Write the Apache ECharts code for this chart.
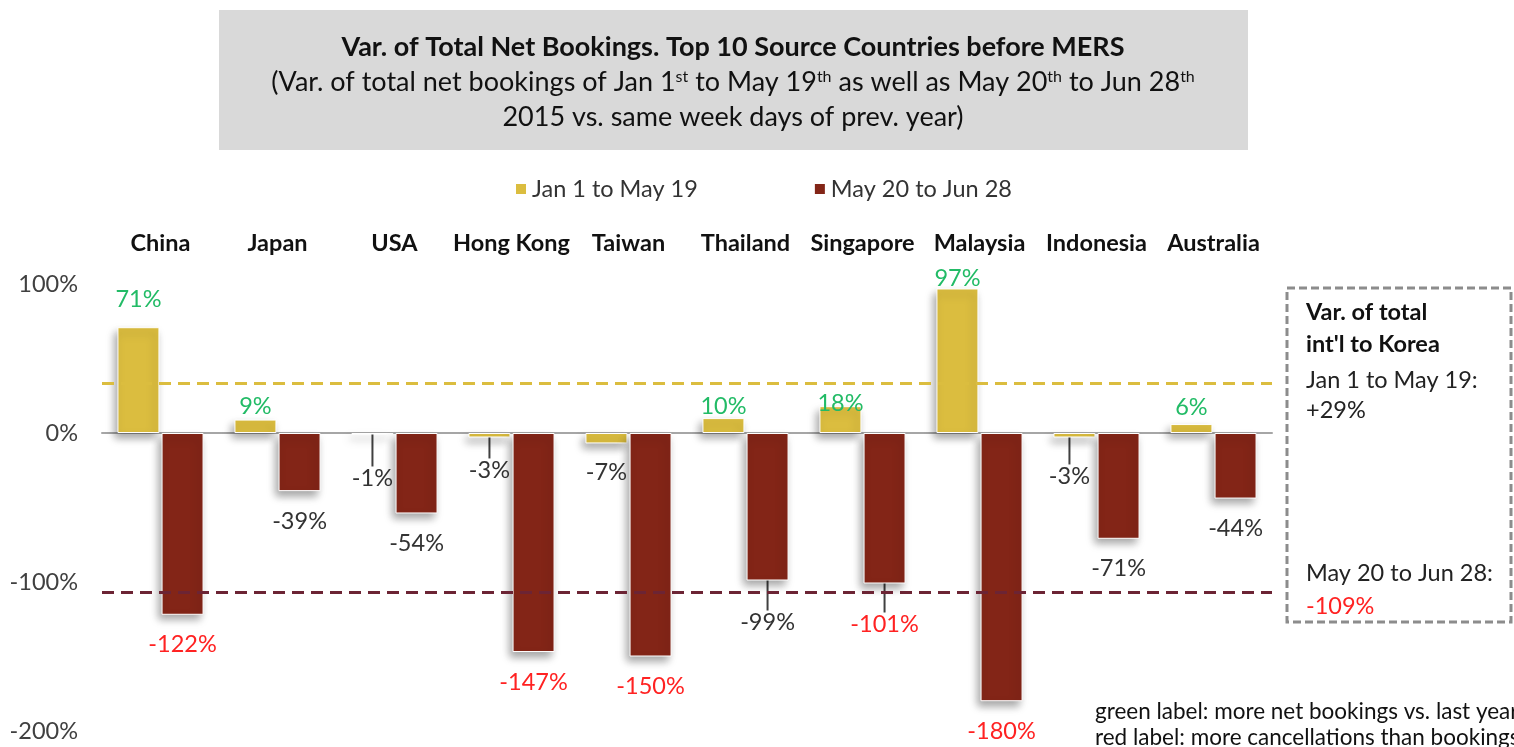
<!DOCTYPE html>
<html>
<head>
<meta charset="utf-8">
<script src="https://cdn.jsdelivr.net/npm/echarts@6/dist/echarts.min.js"></script>
<style>
  html, body { margin: 0; padding: 0; background: #fff; }
  #main { width: 1514px; height: 747px; }
</style>
</head>
<body>
<div id="main"></div>
<script>
const categories = ['China', 'Japan', 'USA', 'Hong Kong', 'Taiwan', 'Thailand', 'Singapore', 'Malaysia', 'Indonesia', 'Australia']
const janToMay = [71, 9, -1, -3, -7, 10, 18, 97, -3, 6]
const mayToJun = [-122, -39, -54, -147, -150, -99, -101, -180, -71, -44]
// dashed lines as drawn (total int'l to Korea)
const totalLines = [33.5, -106.7]
const seriesNames = ['Jan 1 to May 19', 'May 20 to Jun 28']

// label placement tweaks (px), like the hand-placed labels of the original
const janLabelDist = [16, 1, 4, 13, 17, 0, -9, -2, 19, 5]
const janLabelShift = [null, null, [0, 28], [0, 8], null, null, null, null, [-5, 8], null]
const mayLabelDist = 18
const mayLabelShift = [null, null, null, null, null, [0, 12], [0, 11], null, null, null]

const font = 'Lato'
const fs = 23.5
const yellow = '#dbbd3f'
const darkRed = '#832517'

function labelColor(v) {
	if (v > 0) return '#22bb66'
	if (v < -100) return '#ff2222'
	return '#333333'
}

function buildData(values, dist, shifts) {
	return values.map((v, i) => {
		const item = {
			value: v,
			label: {
				position: v >= 0 ? 'top' : 'bottom',
				distance: Array.isArray(dist) ? dist[i] : dist,
				color: labelColor(v),
			},
		}
		if (shifts[i]) {
			item.labelLine = { show: true, lineStyle: { color: '#404040', width: 2 } }
		}
		return item
	})
}

const barShadow = {
	shadowBlur: 8,
	shadowColor: 'rgba(0,0,0,0.35)',
	shadowOffsetX: -3,
	shadowOffsetY: 5,
}

const chart = echarts.init(document.getElementById('main'))

function boxText(text, y, opts) {
	return {
		type: 'text', x: 1306, y: y,
		style: Object.assign({ text: text, fontFamily: font, fontSize: fs, fill: '#222', textVerticalAlign: 'middle' }, opts || {}),
	}
}

const option = {
	animation: false,
	textStyle: { fontFamily: font },
	legend: {
		data: seriesNames,
		left: 514,
		top: 177,
		padding: 0,
		icon: 'rect',
		itemWidth: 12,
		itemHeight: 12,
		itemGap: 115,
		textStyle: { fontSize: fs, color: '#333', fontFamily: font },
	},
	grid: { left: 102, right: 242, top: 284, bottom: 16 },
	xAxis: [
		{
			type: 'category',
			data: categories,
			axisLine: { onZero: true, lineStyle: { color: '#a6a6a6', width: 2 } },
			axisTick: { show: false },
			axisLabel: { show: false },
		},
		{
			type: 'category',
			data: categories,
			position: 'top',
			axisLine: { show: false },
			axisTick: { show: false },
			axisLabel: { interval: 0, fontSize: fs, fontWeight: 'bold', color: '#111', margin: 29, fontFamily: font },
		},
	],
	yAxis: {
		type: 'value',
		min: -200,
		max: 100,
		interval: 100,
		axisLine: { show: false },
		axisTick: { show: false },
		splitLine: { show: false },
		axisLabel: { formatter: '{value}%', fontSize: fs, color: '#404040', margin: 24, fontFamily: font },
	},
	series: [
		{
			name: seriesNames[0],
			type: 'bar',
			barWidth: 42,
			barGap: '5%',
			data: buildData(janToMay, janLabelDist, janLabelShift),
			itemStyle: Object.assign({ color: yellow, borderColor: '#fff', borderWidth: 1 }, barShadow),
			label: { show: true, formatter: '{c}%', fontSize: fs, fontFamily: font },
			labelLayout: (p) => {
				const s = janLabelShift[p.dataIndex]
				return s ? { dx: s[0], dy: s[1] } : {}
			},
			markLine: {
				silent: true,
				symbol: 'none',
				label: { show: false },
				lineStyle: { color: yellow, type: [12, 7], width: 3 },
				data: [{ yAxis: totalLines[0] }],
			},
		},
		{
			name: seriesNames[1],
			type: 'bar',
			barWidth: 42,
			data: buildData(mayToJun, mayLabelDist, mayLabelShift),
			itemStyle: Object.assign({ color: darkRed, borderColor: '#fff', borderWidth: 1 }, barShadow),
			label: { show: true, formatter: '{c}%', fontSize: fs, fontFamily: font },
			labelLayout: (p) => {
				const s = mayLabelShift[p.dataIndex]
				return s ? { dx: s[0], dy: s[1] } : {}
			},
			markLine: {
				silent: true,
				symbol: 'none',
				label: { show: false },
				lineStyle: { color: '#6c2434', type: [12, 7], width: 3 },
				data: [{ yAxis: totalLines[1] }],
			},
		},
	],
	graphic: [
		{
			type: 'rect',
			shape: { x: 219, y: 10, width: 1029, height: 140 },
			style: { fill: '#d9d9d9' },
			z: 0,
		},
		{
			type: 'text',
			x: 733,
			y: 47,
			style: {
				text: 'Var. of Total Net Bookings. Top 10 Source Countries before MERS',
				fontFamily: font, fontSize: 27, fontWeight: 'bold', fill: '#111',
				textAlign: 'center', textVerticalAlign: 'middle',
			},
		},
		{
			type: 'text',
			x: 733,
			y: 82,
			style: {
				text: '(Var. of total net bookings of Jan 1{s|st} to May 19{s|th} as well as May 20{s|th} to Jun 28{s|th}',
				fontFamily: font, fontSize: 27, fill: '#111',
				textAlign: 'center', textVerticalAlign: 'middle',
				rich: { s: { fontSize: 16, verticalAlign: 'top', fontFamily: font, fill: '#111' } },
			},
		},
		{
			type: 'text',
			x: 733,
			y: 117,
			style: {
				text: '2015 vs. same week days of prev. year)',
				fontFamily: font, fontSize: 27, fill: '#111',
				textAlign: 'center', textVerticalAlign: 'middle',
			},
		},
		{
			type: 'rect',
			shape: { x: 1287, y: 288, width: 224, height: 334 },
			style: { fill: 'none', stroke: '#8c8c8c', lineWidth: 3, lineDash: [8, 4] },
		},
		boxText('Var. of total', 312, { fontWeight: 'bold', fill: '#111' }),
		boxText("int'l to Korea", 344, { fontWeight: 'bold', fill: '#111' }),
		boxText('Jan 1 to May 19:', 380),
		boxText('+29%', 410),
		boxText('May 20 to Jun 28:', 573),
		boxText('-109%', 606, { fill: '#ff2222' }),
		{
			type: 'text', x: 1095, y: 712,
			style: { text: 'green label: more net bookings vs. last year', fontFamily: font, fontSize: 22.5, fill: '#111', textVerticalAlign: 'middle' },
		},
		{
			type: 'text', x: 1095, y: 738,
			style: { text: 'red label: more cancellations than bookings', fontFamily: font, fontSize: 22.5, fill: '#111', textVerticalAlign: 'middle' },
		},
	],
}

chart.setOption(option)
</script>
</body>
</html>
